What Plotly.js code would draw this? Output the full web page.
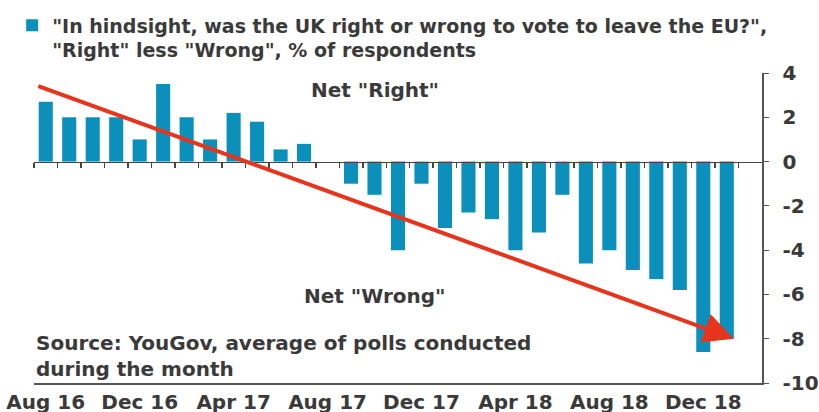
<!DOCTYPE html>
<html>
<head>
<meta charset="utf-8">
<script src="https://cdn.plot.ly/plotly-3.0.1.min.js"></script>
<style>html,body{margin:0;padding:0;background:#fff;}#chart{width:819px;height:412px;}</style>
</head>
<body>
<div id="chart"></div>
<script>
const months = ['Aug 16','Sep 16','Oct 16','Nov 16','Dec 16','Jan 17','Feb 17','Mar 17','Apr 17','May 17','Jun 17','Jul 17',
  'Aug 17','Sep 17','Oct 17','Nov 17','Dec 17','Jan 18','Feb 18','Mar 18','Apr 18','May 18','Jun 18','Jul 18',
  'Aug 18','Sep 18','Oct 18','Nov 18','Dec 18','Jan 19'];
const netRight = [2.7, 2.0, 2.0, 2.0, 1.0, 3.5, 2.0, 1.0, 2.2, 1.8, 0.55, 0.8,
  0, -1.0, -1.5, -4.0, -1.0, -3.0, -2.3, -2.6, -4.0, -3.2, -1.5, -4.6,
  -4.0, -4.9, -5.3, -5.8, -8.6, -8.0];
const tickLabels = ['Aug 16','Dec 16','Apr 17','Aug 17','Dec 17','Apr 18','Aug 18','Dec 18'];
const yTicks = [4, 2, 0, -2, -4, -6, -8, -10];
const seriesName = '"In hindsight, was the UK right or wrong to vote to leave the EU?",<br>"Right" less "Wrong", % of respondents';

const FONT = '"DejaVu Sans", sans-serif';
const TXT = '#3a3a3a';
const BAR = '#0b8fbb';

const data = [
  {type:'bar', x: months, y: netRight, name: seriesName, marker:{color: BAR},
   hoverinfo:'x+y', showlegend:true},
  {type:'bar', x: months, y: netRight, xaxis:'x2', yaxis:'y', opacity:0,
   hoverinfo:'skip', showlegend:false, marker:{color:'rgba(0,0,0,0)'}}
];

const layout = {
  width: 819, height: 412,
  margin: {l: 34, r: 57, t: 73, b: 29, autoexpand: false},
  paper_bgcolor: '#fff', plot_bgcolor: '#fff',
  font: {family: FONT, color: TXT, size: 19, weight: 'bold'},
  bargap: 0.4,
  showlegend: true,
  legend: {x: -0.03, y: 1.215, xanchor:'left', yanchor:'top', bgcolor:'rgba(0,0,0,0)',
    font:{family: FONT, size: 19, color: TXT, weight: 'bold'}, valign:'top', tracegroupgap:0},
  xaxis: {type:'category', range:[-0.5, 30.5], tickvals: tickLabels, ticktext: tickLabels,
    showline:true, linecolor:'#555', linewidth:1.5, ticks:'', showgrid:false, zeroline:false,
    tickfont:{family: FONT, size: 20, color: TXT, weight: 'bold'}, ticklabeloverflow:'allow'},
  xaxis2: {type:'category', overlaying:'x', anchor:'free', position: 10/14, range:[-0.5, 30.5],
    tickson:'boundaries', ticks:'outside', ticklen:5, tickcolor:'#444', tickwidth:1.5,
    showline:true, linecolor:'#444', linewidth:1.5, showticklabels:false, showgrid:false, zeroline:false},
  yaxis: {side:'right', range:[-10, 4], tickvals: yTicks, ticktext: yTicks.map(String),
    ticks:'outside', ticklen:5, tickcolor:'#555', showline:true, linecolor:'#555', linewidth:1.5,
    showgrid:false, zeroline:false, ticklabelstandoff:10,
    tickfont:{family: FONT, size: 20, color: TXT, weight: 'bold'}},
  annotations: [
    {x: 29.3, y: -8.0, ax: -0.38, ay: 3.43, xref:'x', yref:'y', axref:'x', ayref:'y',
     showarrow:true, arrowhead:2, arrowsize:1.5, arrowwidth:4, arrowcolor:'#e8341c', text:''},
    {x: 14, y: 3.25, xref:'x', yref:'y', text:'Net "Right"', showarrow:false,
     font:{family: FONT, size: 20, color: TXT, weight: 'bold'}},
    {x: 14, y: -6.05, xref:'x', yref:'y', text:'Net "Wrong"', showarrow:false,
     font:{family: FONT, size: 20, color: TXT, weight: 'bold'}},
    {x: 0.0, y: 0.0, xref:'paper', yref:'paper', xanchor:'left', yanchor:'bottom', align:'left',
     text:'Source: YouGov, average of polls conducted<br>during the month', showarrow:false,
     font:{family: FONT, size: 20, color: TXT, weight: 'bold'}}
  ]
};

Plotly.newPlot('chart', data, layout, {displayModeBar:false, staticPlot:true});
</script>
</body>
</html>
